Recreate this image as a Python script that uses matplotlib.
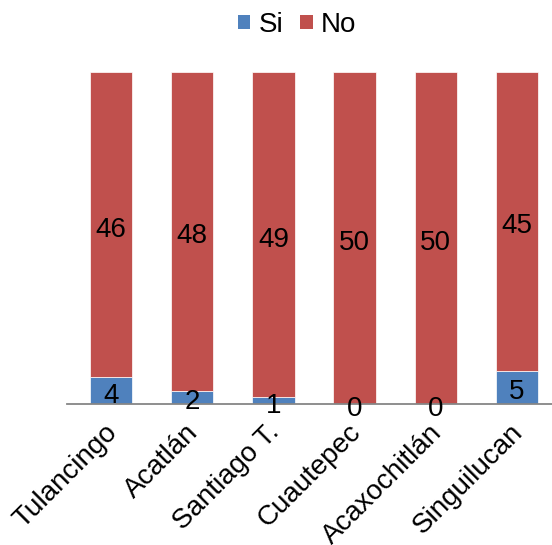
import numpy as np
import matplotlib
matplotlib.use('Agg')
import matplotlib.pyplot as plt
from matplotlib.patches import Patch
from matplotlib.transforms import ScaledTranslation

plt.rcParams['font.family'] = ['Liberation Sans', 'DejaVu Sans']

municipios = ['Tulancingo', 'Acatlán', 'Santiago T.', 'Cuautepec', 'Acaxochitlán', 'Singuilucan']
si = [4, 2, 1, 0, 0, 5]
no = [46, 48, 49, 50, 50, 45]

azul = '#4F81BD'
rojo = '#C0504D'

fig = plt.figure(figsize=(5.52, 5.45), dpi=100)
ax = fig.add_axes([67/552, 1-404/545, (552-67)/552, 332/545])

x = np.arange(len(municipios))
ax.bar(x, si, width=0.52, color=azul, edgecolor='white', linewidth=0.5)
ax.bar(x, no, width=0.52, bottom=si, color=rojo, edgecolor='white', linewidth=0.5)

for i in range(len(municipios)):
    ax.annotate(str(si[i]), (x[i], si[i]/2), xytext=(0, -3.6), textcoords='offset points',
                ha='center', va='center', fontsize=20)
    ax.annotate(str(no[i]), (x[i], si[i] + no[i]/2), xytext=(0, -3.6), textcoords='offset points',
                ha='center', va='center', fontsize=20)

ax.set_xlim(-0.542, 5.431)
ax.set_ylim(0, 50)
ax.set_yticks([])
for s in ['top', 'right', 'left']:
    ax.spines[s].set_visible(False)
ax.spines['bottom'].set_color('#868686')
ax.spines['bottom'].set_linewidth(1.3)
ax.set_xticks(x)
ax.set_xticklabels(municipios, rotation=45, ha='right', va='top', rotation_mode='anchor', fontsize=20)
ax.tick_params(axis='x', length=0, pad=11)
desplaza = ScaledTranslation(-0.07, 0, fig.dpi_scale_trans)
for t in ax.get_xticklabels():
    t.set_transform(t.get_transform() + desplaza)

handles = [Patch(facecolor=azul), Patch(facecolor=rojo)]
fig.legend(handles, ['Si', 'No'], loc='upper center', bbox_to_anchor=(297/552, 1.024), ncol=2,
           frameon=False, fontsize=20, handlelength=0.45, handleheight=0.45, handletextpad=0.3,
           columnspacing=0.6)

fig.savefig('out.png', dpi=100)
